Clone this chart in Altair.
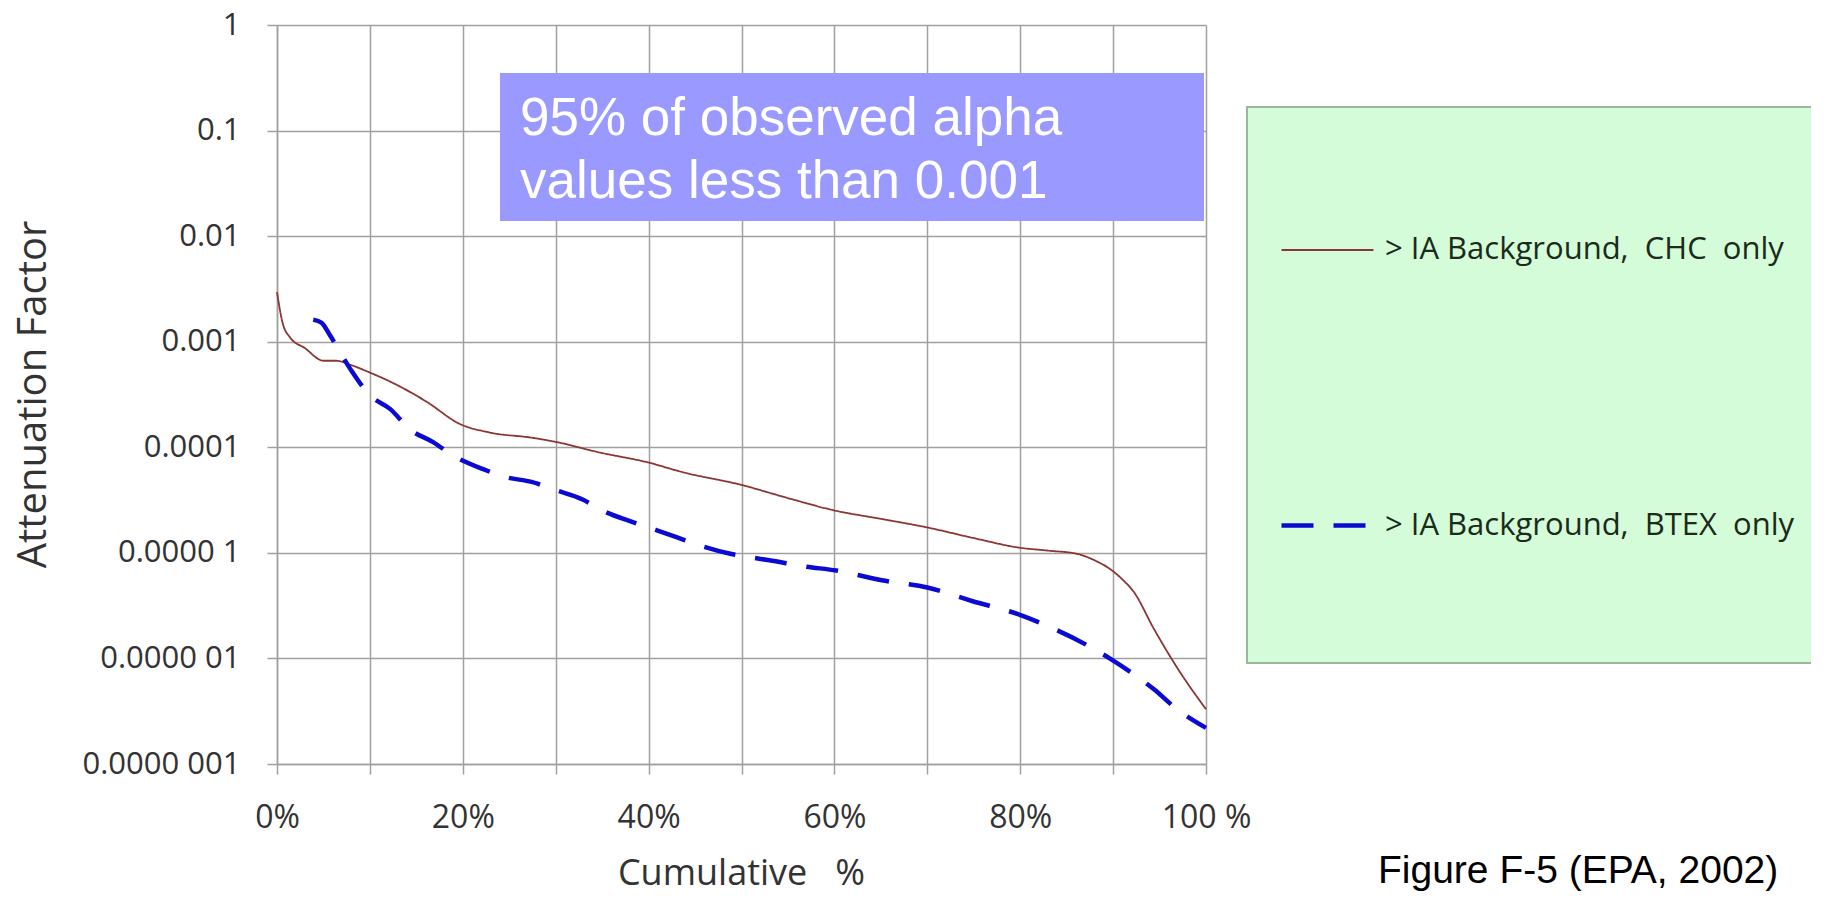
import json
import altair as alt
import pandas as pd

# ---------------- data ----------------
series_names = [
    "> IA Background,\u00a0\u00a0CHC\u00a0\u00a0only",
    "> IA Background,\u00a0\u00a0BTEX\u00a0\u00a0only",
]

chc_pct = [0, 0.6, 1.4, 3, 5, 6.4, 8, 10, 12.9, 16.1, 19.7, 22.9, 27.5, 30.1, 34.8,
           39.9, 43.7, 50, 55, 60.2, 65, 70, 75, 79.9, 83, 86.1, 88, 89.8, 91, 92.2,
           94.4, 97, 100]
chc_af = [0.00295, 0.00151, 0.0011, 0.00087, 0.00066, 0.00066, 0.0006, 0.00051,
          0.00039, 0.00027, 0.000166, 0.000138, 0.000123, 0.000112, 8.9e-5, 7.2e-5,
          5.8e-5, 4.4e-5, 3.3e-5, 2.5e-5, 2.1e-5, 1.74e-5, 1.38e-5, 1.12e-5, 1.05e-5,
          9.8e-6, 8.5e-6, 6.9e-6, 5.6e-6, 4.3e-6, 1.9e-6, 7.9e-7, 3.3e-7]

btex_pct = [3.9, 4.8, 5.7, 7.9, 10, 12.2, 14.3, 16.8, 19, 22.2, 24.7, 27.4, 30.1, 32.9,
            35.1, 38, 40, 43, 45.2, 48.8, 50.9, 53, 57, 60.2, 65.1, 70, 74.8, 79.9,
            83.1, 87.3, 89.8, 92.2, 94.4, 96.7, 100]
btex_af = [0.00162, 0.00151, 0.00115, 0.00055, 0.00031, 0.00023, 0.000148, 0.000112,
           8.3e-5, 6.2e-5, 5.2e-5, 4.7e-5, 3.9e-5, 3.2e-5, 2.5e-5, 2.0e-5, 1.74e-5,
           1.41e-5, 1.2e-5, 9.8e-6, 9.1e-6, 8.5e-6, 7.4e-6, 6.8e-6, 5.5e-6, 4.7e-6,
           3.5e-6, 2.6e-6, 2.0e-6, 1.32e-6, 9.8e-7, 7.1e-7, 5.1e-7, 3.4e-7, 2.2e-7]

x_tick_values = [0, 10, 20, 30, 40, 50, 60, 70, 80, 90, 100]
x_tick_labels = ["0%", "", "20%", "", "40%", "", "60%", "", "80%", "", "100 %"]
y_tick_values = [1, 0.1, 0.01, 0.001, 0.0001, 1e-5, 1e-6, 1e-7]
y_tick_labels = ["1", "0.1", "0.01", "0.001", "0.0001", "0.0000 1", "0.0000 01", "0.0000 001"]

annotation_lines = ["95% of observed alpha", "values less than 0.001"]
caption = "Figure F-5 (EPA, 2002)"
x_title = "Cumulative\u00a0\u00a0\u00a0%"
y_title = "Attenuation Factor"

# ---------------- table ----------------
df = pd.concat([
    pd.DataFrame({"pct": chc_pct, "af": chc_af, "series": series_names[0], "order": range(len(chc_pct))}),
    pd.DataFrame({"pct": btex_pct, "af": btex_af, "series": series_names[1], "order": range(len(btex_pct))}),
], ignore_index=True)

W, H = 929, 739
GRID = "#a0a0a0"
FONT = "Open Sans"

x_label_expr = json.dumps(x_tick_labels) + "[round(datum.value / 10)]"
y_label_expr = json.dumps(y_tick_labels) + "[round(-log(datum.value) / LN10)]"

legend_spec = dict(
    title=None, orient="none", legendX=1002, legendY=178,
    symbolType="stroke", symbolSize=8464, labelFont=FONT, labelFontSize=31,
    labelColor="#1b2a1b", labelOffset=9, rowPadding=212, padding=0, labelLimit=1000,
)

lines = alt.Chart(df).mark_line(interpolate="monotone").encode(
    x=alt.X("pct:Q", scale=alt.Scale(domain=[0, 100], nice=False),
            axis=alt.Axis(values=x_tick_values, labelExpr=x_label_expr, title=x_title,
                          labelFlush=False, labelOverlap=False, labelPadding=28,
                          labelFontSize=32,
                          titleFontSize=36,
                          titleX=464, titleY=120, titleBaseline="alphabetic",
                          titleAlign="center")),
    y=alt.Y("af:Q", scale=alt.Scale(type="log", domain=[1e-7, 1], nice=False),
            axis=alt.Axis(values=y_tick_values, labelExpr=y_label_expr, title=y_title,
                          labelOverlap=False, labelPadding=27, labelFontSize=31,
                          titleFontSize=40,
                          titleX=-244, titleY=369, titleAngle=270,
                          titleAlign="center", titleBaseline="middle")),
    color=alt.Color("series:N", scale=alt.Scale(domain=series_names, range=["#8b3636", "#0a0ad2"]),
                    legend=alt.Legend(**legend_spec)),
    strokeDash=alt.StrokeDash("series:N", scale=alt.Scale(domain=series_names, range=[[1, 0], [32, 20]]),
                              legend=alt.Legend(**legend_spec)),
    strokeWidth=alt.StrokeWidth("series:N", scale=alt.Scale(domain=series_names, range=[1.8, 4.5]),
                                legend=alt.Legend(**legend_spec)),
    order="order:Q",
)

one = pd.DataFrame({"k": [0]})

legend_box = alt.Chart(one).mark_rect(fill="#d4fcd8", stroke="#9cb59c", strokeWidth=2).encode(
    x=alt.value(970), x2=alt.value(1535), y=alt.value(82), y2=alt.value(638))

note_box = alt.Chart(one).mark_rect(fill="#9999ff").encode(
    x=alt.value(223), x2=alt.value(927), y=alt.value(48), y2=alt.value(196))

note_text = alt.Chart(one).mark_text(
    font="Liberation Sans", fontSize=53, color="white", align="left",
    baseline="alphabetic", lineHeight=63,
).encode(x=alt.value(243), y=alt.value(110), text=alt.value(annotation_lines))

caption_text = alt.Chart(one).mark_text(
    font="Liberation Sans", fontSize=39, color="black", align="left", baseline="alphabetic",
).encode(x=alt.value(1101), y=alt.value(858), text=alt.value(caption))

chart = alt.layer(legend_box, note_box, lines, note_text, caption_text).properties(
    width=W, height=H,
    autosize=alt.AutoSizeParams(type="none"),
    padding={"left": 269, "top": 17, "right": 605, "bottom": 128},
).configure_view(stroke=None).configure_axis(
    grid=True, gridColor=GRID, gridWidth=1.5, gridOpacity=1,
    domainColor=GRID, domainWidth=1.5, tickColor=GRID, tickWidth=1.5, tickSize=10,
    labelFont=FONT, labelColor="#333333",
    titleFont=FONT, titleFontWeight="normal", titleColor="#333333",
).configure_legend(symbolStrokeWidth=3)

chart.save("out.html", embed_options={"renderer": "svg", "actions": False})
